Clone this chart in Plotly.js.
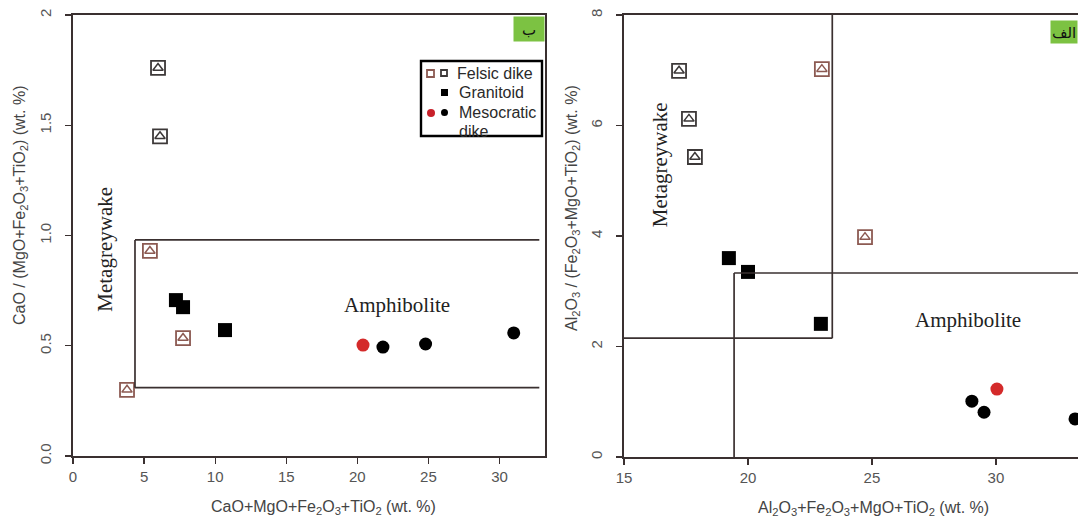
<!DOCTYPE html>
<html>
<head>
<meta charset="utf-8">
<script src="https://cdn.plot.ly/plotly-3.0.1.min.js"></script>
<style>html,body{margin:0;padding:0;background:#fff;}#chart{width:1078px;height:518px;}</style>
</head>
<body>
<div id="chart"></div>
<script>
// ---------- Left diagram (ب): CaO/(MgO+Fe2O3+TiO2) vs CaO+MgO+Fe2O3+TiO2 ----------
const L_felsicDark_x = [5.98, 6.12];
const L_felsicDark_y = [1.76, 1.45];
const L_felsicBrown_x = [5.41, 7.74, 3.80];
const L_felsicBrown_y = [0.93, 0.535, 0.30];
const L_granitoid_x = [7.24, 7.74, 10.69];
const L_granitoid_y = [0.707, 0.675, 0.571];
const L_mesoRed_x = [20.4];
const L_mesoRed_y = [0.503];
const L_mesoBlack_x = [21.8, 24.8, 31.0];
const L_mesoBlack_y = [0.494, 0.508, 0.558];
const L_xTicks = [0, 5, 10, 15, 20, 25, 30];
const L_yTicks = [0, 0.5, 1.0, 1.5, 2];
const L_yTickText = ["0.0", "0.5", "1.0", "1.5", "2"];
// field boundaries
const L_fieldX0 = 4.36, L_fieldX1 = 32.8, L_fieldYLow = 0.31, L_fieldYHigh = 0.98;

// ---------- Right diagram (الف): Al2O3/(Fe2O3+MgO+TiO2) vs Al2O3+Fe2O3+MgO+TiO2 ----------
const R_felsicDark_x = [17.22, 17.62, 17.86];
const R_felsicDark_y = [6.99, 6.12, 5.43];
const R_felsicBrown_x = [22.98, 24.72];
const R_felsicBrown_y = [7.02, 3.98];
const R_granitoid_x = [19.23, 20.0, 22.94];
const R_granitoid_y = [3.60, 3.35, 2.41];
const R_mesoRed_x = [30.04];
const R_mesoRed_y = [1.23];
const R_mesoBlack_x = [29.03, 29.52, 33.19];
const R_mesoBlack_y = [1.01, 0.81, 0.69];
const R_xTicks = [15, 20, 25, 30];
const R_yTicks = [0, 2, 4, 6, 8];
const R_yTickText = ["0", "2", "4", "6", "8"];
const R_metaX = 23.4, R_metaY = 2.15, R_amphX = 19.44, R_amphY = 3.33;

const brown = '#8c5a52', dark = '#3c3838', lineCol = '#3a3030';

function felsic(xs, ys, col, xa, ya) {
  return [
    {x: xs, y: ys, xaxis: xa, yaxis: ya, type: 'scatter', mode: 'markers', showlegend: false, hoverinfo: 'skip',
     marker: {symbol: 'square', size: 14, color: '#ffffff', line: {color: col, width: 1.8}}},
    {x: xs, y: ys, xaxis: xa, yaxis: ya, type: 'scatter', mode: 'markers', showlegend: false, hoverinfo: 'skip',
     marker: {symbol: 'triangle-up-open', size: 9, color: col, line: {color: col, width: 1.5}}}
  ];
}
function filled(xs, ys, col, sym, size, xa, ya) {
  return {x: xs, y: ys, xaxis: xa, yaxis: ya, type: 'scatter', mode: 'markers', showlegend: false, hoverinfo: 'skip',
          marker: {symbol: sym, size: size, color: col, line: {width: 0}}};
}

const data = [].concat(
  felsic(L_felsicDark_x, L_felsicDark_y, dark, 'x', 'y'),
  felsic(L_felsicBrown_x, L_felsicBrown_y, brown, 'x', 'y'),
  [filled(L_granitoid_x, L_granitoid_y, '#000', 'square', 14, 'x', 'y'),
   filled(L_mesoRed_x, L_mesoRed_y, '#d42a2a', 'circle', 13, 'x', 'y'),
   filled(L_mesoBlack_x, L_mesoBlack_y, '#000', 'circle', 13, 'x', 'y')],
  felsic(R_felsicDark_x, R_felsicDark_y, dark, 'x2', 'y2'),
  felsic(R_felsicBrown_x, R_felsicBrown_y, brown, 'x2', 'y2'),
  [filled(R_granitoid_x, R_granitoid_y, '#000', 'square', 14, 'x2', 'y2'),
   filled(R_mesoRed_x, R_mesoRed_y, '#d42a2a', 'circle', 13, 'x2', 'y2'),
   filled(R_mesoBlack_x, R_mesoBlack_y, '#000', 'circle', 13, 'x2', 'y2')]
);

const tickFont = {family: 'Liberation Sans, Arial, sans-serif', size: 15, color: '#555'};
const axBase = {showgrid: false, zeroline: false, showline: true, linecolor: lineCol, linewidth: 1.7,
  ticks: 'outside', ticklen: 6, tickcolor: lineCol, tickwidth: 1.3, tickfont: tickFont, fixedrange: true};

const serif = {family: 'Liberation Serif, Times New Roman, serif', size: 21, color: '#222'};
const sans = {family: 'Liberation Sans, Arial, sans-serif', size: 16, color: '#2a2a2a'};
const titleFont = {family: 'Liberation Sans, Arial, sans-serif', size: 16, color: '#444'};

function seg(xref, yref, x0, y0, x1, y1) {
  return {type: 'line', xref: xref, yref: yref, x0: x0, y0: y0, x1: x1, y1: y1, line: {color: lineCol, width: 1.7}};
}

const W = 1078, H = 518;
const px = v => v / W, py = v => 1 - v / H;

const shapes = [
  seg('x', 'y', L_fieldX0, L_fieldYLow, L_fieldX0, L_fieldYHigh),
  seg('x', 'y', L_fieldX0, L_fieldYHigh, L_fieldX1, L_fieldYHigh),
  seg('x', 'y', L_fieldX0, L_fieldYLow, L_fieldX1, L_fieldYLow),
  seg('x2', 'y2', R_metaX, R_metaY, R_metaX, 8),
  seg('x2', 'y2', 15, R_metaY, R_metaX, R_metaY),
  seg('x2', 'y2', R_amphX, 0, R_amphX, R_amphY),
  seg('x2', 'y2', R_amphX, R_amphY, 33.31, R_amphY),
  // legend box
  {type: 'rect', xref: 'paper', yref: 'paper', x0: px(421), x1: px(542), y0: py(136), y1: py(61),
   line: {color: '#000', width: 2.4}, fillcolor: '#fff'},
  // legend symbols
  {type: 'rect', xref: 'paper', yref: 'paper', x0: px(427), x1: px(434), y0: py(77), y1: py(70), line: {color: brown, width: 1.8}, fillcolor: '#fff'},
  {type: 'rect', xref: 'paper', yref: 'paper', x0: px(441), x1: px(447), y0: py(76), y1: py(70), line: {color: dark, width: 1.8}, fillcolor: '#fff'},
  {type: 'rect', xref: 'paper', yref: 'paper', x0: px(441), x1: px(448), y0: py(96), y1: py(89), line: {width: 0}, fillcolor: '#000'},
  {type: 'circle', xref: 'paper', yref: 'paper', x0: px(427), x1: px(435), y0: py(117), y1: py(109), line: {width: 0}, fillcolor: '#c8202a'},
  {type: 'circle', xref: 'paper', yref: 'paper', x0: px(441), x1: px(448), y0: py(116), y1: py(109), line: {width: 0}, fillcolor: '#000'}
];

function ann(o) { return Object.assign({showarrow: false, xanchor: 'center', yanchor: 'middle'}, o); }

const annotations = [
  ann({xref: 'x', yref: 'y', x: 2.25, y: 0.94, text: 'Metagreywake', textangle: -90, font: serif}),
  ann({xref: 'x', yref: 'y', x: 22.8, y: 0.685, text: 'Amphibolite', font: serif}),
  ann({xref: 'x2', yref: 'y2', x: 16.45, y: 5.3, text: 'Metagreywake', textangle: -90, font: serif}),
  ann({xref: 'x2', yref: 'y2', x: 28.87, y: 2.48, text: 'Amphibolite', font: serif}),
  // legend text
  ann({xref: 'paper', yref: 'paper', x: px(455), y: py(73), xanchor: 'left', text: 'Felsic dike', font: sans}),
  ann({xref: 'paper', yref: 'paper', x: px(457), y: py(93), xanchor: 'left', text: 'Granitoid', font: sans}),
  ann({xref: 'paper', yref: 'paper', x: px(457), y: py(112), xanchor: 'left', text: 'Mesocratic', font: sans}),
  ann({xref: 'paper', yref: 'paper', x: px(457), y: py(131), xanchor: 'left', text: 'dike', font: sans}),
  // panel labels
  ann({xref: 'paper', yref: 'paper', x: px(529), y: py(29), text: 'ب', bgcolor: '#7cc242',
   font: {family: 'Noto Sans, DejaVu Sans, sans-serif', size: 15, color: '#111'}, width: 28, height: 22}),
  ann({xref: 'paper', yref: 'paper', x: px(1078), y: py(32), xanchor: 'right', text: 'الف', bgcolor: '#7cc242',
   font: {family: 'Noto Sans, DejaVu Sans, sans-serif', size: 15, color: '#111'}, height: 20}),
  // axis titles
  ann({xref: 'paper', yref: 'paper', x: px(323), y: py(507), text: 'CaO+MgO+Fe<sub>2</sub>O<sub>3</sub>+TiO<sub>2</sub> (wt. %)', font: titleFont}),
  ann({xref: 'paper', yref: 'paper', x: px(20), y: py(206), textangle: -90, text: 'CaO / (MgO+Fe<sub>2</sub>O<sub>3</sub>+TiO<sub>2</sub>) (wt. %)', font: titleFont}),
  ann({xref: 'paper', yref: 'paper', x: px(873), y: py(508), text: 'Al<sub>2</sub>O<sub>3</sub>+Fe<sub>2</sub>O<sub>3</sub>+MgO+TiO<sub>2</sub> (wt. %)', font: titleFont}),
  ann({xref: 'paper', yref: 'paper', x: px(572), y: py(208), textangle: -90, text: 'Al<sub>2</sub>O<sub>3</sub> / (Fe<sub>2</sub>O<sub>3</sub>+MgO+TiO<sub>2</sub>) (wt. %)', font: titleFont})
];

const layout = {
  width: W, height: H, margin: {l: 0, r: 0, t: 0, b: 0}, paper_bgcolor: '#fff', plot_bgcolor: '#fff',
  showlegend: false,
  xaxis: Object.assign({}, axBase, {domain: [px(73), px(545)], range: [0, 33.2], tickvals: L_xTicks, mirror: true, anchor: 'y'}),
  yaxis: Object.assign({}, axBase, {domain: [py(456), py(15)], range: [0, 2], tickvals: L_yTicks, ticktext: L_yTickText,
    tickangle: -90, mirror: true, anchor: 'x', ticklabelstandoff: 8}),
  xaxis2: Object.assign({}, axBase, {domain: [px(624), 1], range: [15, 33.31], tickvals: R_xTicks, mirror: true, anchor: 'y2'}),
  yaxis2: Object.assign({}, axBase, {domain: [py(457), py(15)], range: [0, 8], tickvals: R_yTicks, ticktext: R_yTickText,
    tickangle: -90, anchor: 'x2', ticklabelstandoff: 8}),
  shapes: shapes,
  annotations: annotations
};

Plotly.newPlot('chart', data, layout, {displayModeBar: false, staticPlot: true});
</script>
</body>
</html>
